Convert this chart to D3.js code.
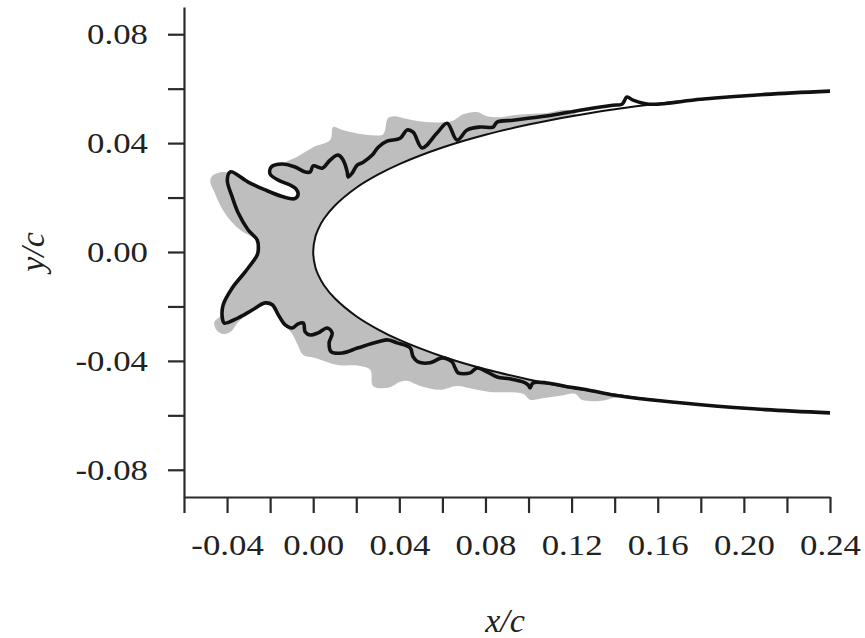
<!DOCTYPE html>
<html>
<head>
<meta charset="utf-8">
<script src="https://cdn.jsdelivr.net/npm/d3@7"></script>
<style>
body{margin:0;background:#fff;}
svg{display:block;}
.tick text{font-family:'Liberation Serif','Times New Roman',serif;font-size:29px;fill:#222;}
.axis-label{font-family:'Liberation Serif','Times New Roman',serif;font-style:italic;font-size:34px;fill:#222;}
</style>
</head>
<body>
<svg width="865" height="638"></svg>
<script>

// tick positions and labels
const xTicks = [-0.06,-0.04,-0.02,0.00,0.02,0.04,0.06,0.08,0.10,0.12,0.14,0.16,0.18,0.20,0.22,0.24];
const xTickLabels = ['','-0.04','','0.00','','0.04','','0.08','','0.12','','0.16','','0.20','','0.24'];
const yTicks = [-0.08,-0.06,-0.04,-0.02,0.00,0.02,0.04,0.06,0.08];
const yTickLabels = ['-0.08','','-0.04','','0.00','','0.04','','0.08'];

// clean airfoil leading edge [x/c, y/c]
const airfoilUpper = [[0,0],[0.001,0.0056],[0.0025,0.0087],[0.005,0.0122],[0.01,0.0170],[0.02,0.0236],
  [0.03,0.0284],[0.04,0.0323],[0.06,0.0384],[0.08,0.0431],[0.10,0.0468],[0.12,0.0499],[0.15,0.0535],
  [0.18,0.0561],[0.21,0.0579],[0.24,0.0591]];
const airfoilLower = [[0,0],[0.001,-0.0056],[0.0025,-0.0087],[0.005,-0.0122],[0.01,-0.0170],[0.02,-0.0236],
  [0.03,-0.0284],[0.04,-0.0323],[0.06,-0.0384],[0.08,-0.0431],[0.10,-0.0468],[0.12,-0.0499],[0.15,-0.0535],
  [0.18,-0.0561],[0.21,-0.0579],[0.24,-0.0591]];

// ice shape drawn as black line (upper tail -> horns -> lower tail)
const iceLine = [[0.240,0.0591],[0.210,0.0579],[0.180,0.0561],[0.156,0.0543],[0.1485,0.0558],[0.1457,0.0569],
  [0.1434,0.0543],[0.1392,0.0539],[0.1239,0.0521],[0.1114,0.0503],[0.1007,0.0492],[0.0928,0.0484],[0.0854,0.0477],
  [0.0835,0.0459],[0.0775,0.0459],[0.0715,0.0448],[0.0668,0.0411],[0.0622,0.0473],[0.0575,0.0437],[0.0506,0.0382],
  [0.0464,0.0440],[0.0436,0.0448],[0.0404,0.0418],[0.0343,0.0407],[0.0302,0.0385],[0.0274,0.0356],[0.0232,0.0330],
  [0.0204,0.0319],[0.0181,0.0290],[0.0162,0.0275],[0.0158,0.0294],[0.0139,0.0338],[0.0116,0.0356],[0.0079,0.0338],
  [0.0042,0.0308],[0.0000,0.0316],[-0.0014,0.0294],[-0.0037,0.0294],[-0.0084,0.0312],[-0.0144,0.0323],
  [-0.0195,0.0312],[-0.0200,0.0286],[-0.0162,0.0264],[-0.0107,0.0246],[-0.0080,0.0232],[-0.0070,0.0212],
  [-0.0085,0.0196],[-0.0144,0.0204],[-0.0223,0.0228],[-0.0302,0.0257],[-0.0385,0.0294],[-0.0399,0.0264],[-0.0376,0.0202],
  [-0.0348,0.0143],[-0.0302,0.0081],[-0.0260,0.0044],[-0.0255,0.0007],[-0.0260,-0.0011],[-0.0316,-0.0073],
  [-0.0376,-0.0132],[-0.0418,-0.0194],[-0.0422,-0.0242],[-0.0413,-0.0261],[-0.0348,-0.0242],[-0.0283,-0.0213],
  [-0.0223,-0.0187],[-0.0190,-0.0194],[-0.0162,-0.0231],[-0.0130,-0.0268],[-0.0097,-0.0279],[-0.0070,-0.0264],
  [-0.0046,-0.0261],[-0.0037,-0.0294],[-0.0014,-0.0305],[0.0023,-0.0297],[0.0065,-0.0279],[0.0088,-0.0297],
  [0.0074,-0.0334],[0.0084,-0.0367],[0.0135,-0.0371],[0.0209,-0.0352],[0.0302,-0.0330],[0.0348,-0.0323],
  [0.0390,-0.0334],[0.0450,-0.0352],[0.0464,-0.0385],[0.0487,-0.0404],[0.0543,-0.0407],[0.0599,-0.0389],
  [0.0645,-0.0404],[0.0659,-0.0426],[0.0673,-0.0444],[0.0729,-0.0444],[0.0761,-0.0426],[0.0807,-0.0440],
  [0.0854,-0.0459],[0.0914,-0.0466],[0.0974,-0.0477],[0.0998,-0.0488],[0.1007,-0.0499],[0.1021,-0.0481],
  [0.1086,-0.0481],[0.1179,-0.0495],[0.1271,-0.0506],[0.1392,-0.0525],[0.1564,-0.0543],[0.180,-0.0561],
  [0.210,-0.0579],[0.240,-0.0591]];

// ice shape drawn as grey area (outer boundary)
const iceArea = [[0.1216,0.0510],[0.1077,0.0510],[0.0937,0.0503],[0.0868,0.0495],[0.0807,0.0499],[0.0761,0.0514],
  [0.0696,0.0506],[0.0645,0.0481],[0.0543,0.0477],[0.0464,0.0484],[0.0404,0.0495],[0.0381,0.0499],[0.0348,0.0492],
  [0.0325,0.0433],[0.0274,0.0429],[0.0195,0.0437],[0.0135,0.0448],[0.0093,0.0459],[0.0079,0.0411],[0.0000,0.0385],
  [-0.0070,0.0352],[-0.0130,0.0330],[-0.0144,0.0323],[-0.0195,0.0312],[-0.0200,0.0286],[-0.0162,0.0264],
  [-0.0107,0.0246],[-0.0080,0.0232],[-0.0070,0.0212],[-0.0085,0.0196],[-0.0144,0.0204],[-0.0223,0.0228],[-0.0302,0.0257],
  [-0.0371,0.0286],[-0.0422,0.0294],[-0.0469,0.0279],[-0.0478,0.0257],[-0.0459,0.0220],[-0.0432,0.0172],
  [-0.0394,0.0125],[-0.0339,0.0081],[-0.0292,0.0059],[-0.0260,0.0040],[-0.0255,0.0007],[-0.0260,-0.0011],
  [-0.0316,-0.0073],[-0.0376,-0.0132],[-0.0418,-0.0194],[-0.0432,-0.0235],[-0.0459,-0.0257],[-0.0450,-0.0286],
  [-0.0422,-0.0301],[-0.0385,-0.0294],[-0.0348,-0.0257],[-0.0283,-0.0213],[-0.0223,-0.0187],[-0.0190,-0.0194],
  [-0.0162,-0.0231],[-0.0130,-0.0272],[-0.0097,-0.0301],[-0.0070,-0.0345],[-0.0046,-0.0378],[0.0009,-0.0389],
  [0.0116,-0.0415],[0.0209,-0.0418],[0.0265,-0.0433],[0.0278,-0.0492],[0.0348,-0.0499],[0.0404,-0.0477],
  [0.0436,-0.0473],[0.0497,-0.0492],[0.0589,-0.0506],[0.0668,-0.0492],[0.0742,-0.0503],[0.0821,-0.0514],
  [0.0974,-0.0521],[0.1007,-0.0543],[0.1053,-0.0539],[0.1146,-0.0528],[0.1216,-0.0521],[0.1248,-0.0543],
  [0.1332,-0.0547],[0.1392,-0.0536],[0.1425,-0.0528]];

function whenLoaded(){

    const svg = d3.select('svg');
    const width = +svg.attr('width');
    const height = +svg.attr('height');

    const margin = {top:7,right:35,bottom:141,left:184};
    const innerWidth = width - margin.left - margin.right;
    const innerHeight = height - margin.top - margin.bottom;

    const xScale = d3.scaleLinear()
        .domain([-0.06,0.24])
        .range([0,innerWidth]);

    const yScale = d3.scaleLinear()
        .domain([-0.09,0.09])
        .range([innerHeight,0]);

    const g = svg.append('g')
        .attr('transform',`translate(${margin.left},${margin.top})`);

    const line = d3.line()
        .x(d => xScale(d[0]))
        .y(d => yScale(d[1]));

    // grey ice, closed through the airfoil interior
    g.append('path')
        .attr('d',line.curve(d3.curveCatmullRomClosed.alpha(0.5))(iceArea))
        .attr('fill','#bebebe')
        .attr('stroke','none');

    const airfoil = airfoilUpper.slice().reverse().concat(airfoilLower.slice(1));
    line.curve(d3.curveCatmullRom.alpha(0.5));

    g.append('path')
        .attr('d',line(airfoil) + 'Z')
        .attr('fill','#fff')
        .attr('stroke','none');

    g.append('path')
        .attr('d',line(airfoil))
        .attr('fill','none')
        .attr('stroke','#111')
        .attr('stroke-width',2);

    g.append('path')
        .attr('d',line(iceLine))
        .attr('fill','none')
        .attr('stroke','#111')
        .attr('stroke-width',3.6)
        .attr('stroke-linejoin','round');

    const xAxis = d3.axisBottom(xScale)
        .tickValues(xTicks)
        .tickFormat((d,i) => xTickLabels[i])
        .tickSizeInner(16)
        .tickSizeOuter(0)
        .tickPadding(21);

    const yAxis = d3.axisLeft(yScale)
        .tickValues(yTicks)
        .tickFormat((d,i) => yTickLabels[i])
        .tickSizeInner(16)
        .tickSizeOuter(0)
        .tickPadding(20);

    const yAxisG = g.append('g').call(yAxis);
    const xAxisG = g.append('g')
        .attr('transform',`translate(0,${innerHeight})`)
        .call(xAxis);

    [xAxisG,yAxisG].forEach(a => {
        a.selectAll('.domain').attr('stroke','#2a2a2a').attr('stroke-width',2.2);
        a.selectAll('.tick line').attr('stroke','#2a2a2a').attr('stroke-width',2.2);
    });

    // labels in the picture look horizontally stretched
    svg.selectAll('.tick text').each(function(){
        const w = this.getComputedTextLength();
        if (w > 0) d3.select(this).attr('textLength',w*1.2).attr('lengthAdjust','spacingAndGlyphs');
    });

    svg.append('text')
        .attr('class','axis-label')
        .attr('x',505)
        .attr('y',632)
        .style('text-anchor','middle')
        .text('x/c');

    svg.append('text')
        .attr('class','axis-label')
        .attr('transform','translate(44,252) rotate(-90)')
        .style('text-anchor','middle')
        .text('y/c');
}

window.onload = whenLoaded;
</script>
</body>
</html>
